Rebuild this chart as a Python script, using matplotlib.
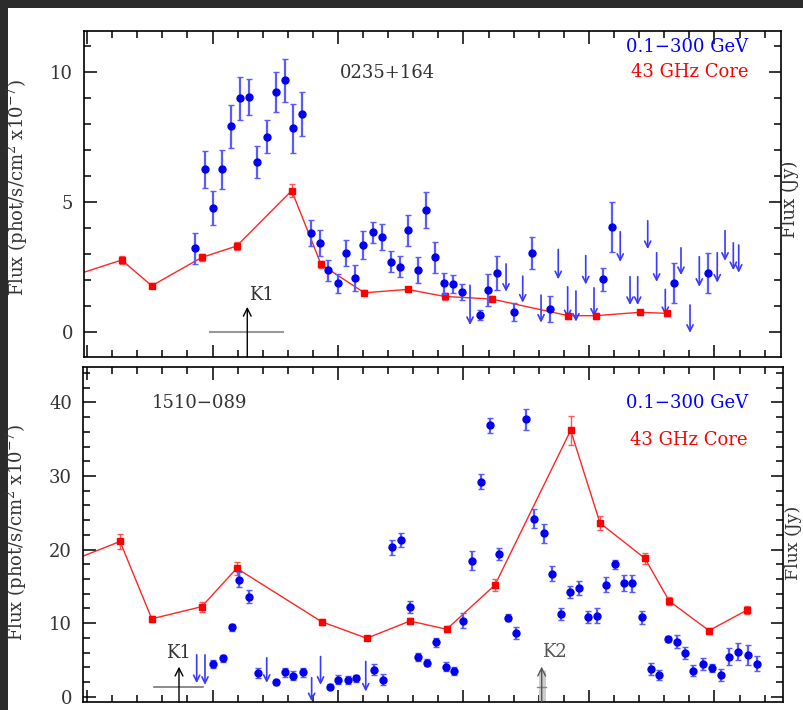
import matplotlib.pyplot as plt
from matplotlib.patches import Rectangle
from matplotlib.ticker import MultipleLocator

plt.rcParams['font.family'] = ['DejaVu Serif']
plt.rcParams['mathtext.fontset'] = 'dejavuserif'

# ---- 0235+164 (top panel) ----
g1_t = [0.861, 0.940, 1.006, 1.078, 1.147, 1.219, 1.293, 1.357, 1.432, 1.504,
        1.575, 1.644, 1.713, 1.785, 1.857, 1.923, 1.998, 2.064, 2.135, 2.202,
        2.276, 2.348, 2.422, 2.494, 2.560, 2.635, 2.701, 2.773, 2.847, 2.916,
        2.986, 3.131, 3.198, 3.269, 3.402, 3.548, 3.689, 4.114, 4.183, 4.680, 4.946]
g1_f = [3.22, 6.26, 4.76, 6.26, 7.92, 8.99, 9.03, 6.54, 7.51, 9.23,
        9.69, 7.83, 8.38, 3.80, 3.41, 2.38, 1.87, 3.03, 2.09, 3.35,
        3.83, 3.64, 2.71, 2.51, 3.92, 2.38, 4.69, 2.87, 1.87, 1.85,
        1.55, 0.65, 1.62, 2.26, 0.78, 3.03, 0.88, 2.03, 4.03, 1.87, 2.26]
g1_e = [0.60, 0.72, 0.65, 0.74, 0.83, 0.82, 0.70, 0.62, 0.63, 0.77,
        0.83, 0.95, 0.85, 0.50, 0.50, 0.40, 0.35, 0.50, 0.50, 0.55,
        0.40, 0.50, 0.40, 0.40, 0.60, 0.50, 0.70, 0.60, 0.40, 0.35,
        0.30, 0.20, 0.60, 0.65, 0.35, 0.62, 0.50, 0.45, 0.97, 0.77, 0.77]
ul1_t = [3.052, 3.339, 3.472, 3.618, 3.755, 3.830, 3.896, 3.974, 4.040, 4.249, 4.327,
         4.388, 4.468, 4.539, 4.608, 4.733, 4.805, 4.879, 5.022, 5.084, 5.150, 5.193]
ul1_hi = [1.80, 2.62, 2.15, 1.42, 3.18, 1.74, 1.58, 2.94, 1.70, 3.86, 2.13,
          2.13, 4.28, 3.05, 1.64, 3.24, 1.04, 2.90, 3.05, 3.90, 3.43, 3.35]
ul1_lo = [0.27, 1.55, 1.13, 0.36, 2.03, 0.53, 0.40, 1.83, 0.59, 2.70, 1.04,
          1.04, 3.19, 1.93, 0.65, 2.19, -0.03, 1.74, 1.90, 2.74, 2.38, 2.28]
r1_t = [-0.375, 0.276, 0.516, 0.914, 1.193, 1.631, 1.865, 2.210, 2.555, 2.849,
        3.225, 3.835, 4.056, 4.406, 4.619]
r1_f = [1.75, 2.77, 1.78, 2.87, 3.31, 5.44, 2.60, 1.51, 1.64, 1.37,
        1.27, 0.63, 0.63, 0.76, 0.72]
r1_e = [0.15, 0.15, 0.1, 0.15, 0.15, 0.25, 0.15, 0.1, 0.1, 0.12,
        0.1, 0.12, 0.12, 0.1, 0.1]

# ---- 1510-089 (bottom panel) ----
g2_t = [1.006, 1.081, 1.158, 1.214, 1.293, 1.360, 1.506, 1.578, 1.644, 1.719,
        1.936, 2.002, 2.077, 2.143, 2.287, 2.361, 2.428, 2.502, 2.574, 2.640,
        2.713, 2.781, 2.861, 2.922, 2.996, 3.068, 3.139, 3.211, 3.280, 3.355,
        3.421, 3.498, 3.564, 3.641, 3.708, 3.779, 3.849, 3.924, 3.994, 4.064,
        4.135, 4.207, 4.279, 4.345, 4.425, 4.492, 4.560, 4.632, 4.699, 4.765,
        4.831, 4.911, 4.977, 5.052, 5.118, 5.190, 5.265, 5.336]
g2_f = [4.48, 5.25, 9.45, 15.9, 13.6, 3.2, 1.95, 3.35, 2.85, 3.35,
        1.40, 2.3, 2.3, 2.53, 3.7, 2.35, 20.3, 21.3, 12.2, 5.42,
        4.65, 7.42, 4.1, 3.52, 10.35, 18.5, 29.2, 36.9, 19.35, 10.76,
        8.7, 37.7, 24.2, 22.2, 16.75, 11.2, 14.25, 14.8, 10.8, 11.0,
        15.25, 18.0, 15.5, 15.4, 10.8, 3.8, 2.98, 7.87, 7.5, 6.0,
        3.57, 4.48, 3.9, 2.98, 5.47, 6.15, 5.7, 4.48]
g2_e = [0.5, 0.5, 0.5, 1.0, 0.9, 0.7, 0.4, 0.6, 0.6, 0.6,
        0.4, 0.6, 0.5, 0.5, 0.7, 0.8, 1.0, 1.0, 0.8, 0.5,
        0.5, 0.6, 0.6, 0.5, 1.0, 1.3, 1.0, 1.0, 0.8, 0.5,
        0.8, 1.4, 1.3, 1.3, 1.0, 0.8, 0.8, 1.0, 0.8, 1.0,
        1.0, 0.6, 1.1, 1.1, 0.9, 0.8, 0.7, 0.4, 0.9, 0.8,
        0.7, 0.8, 0.5, 0.8, 1.2, 1.2, 1.4, 1.0]
ul2_t = [0.874, 0.940, 1.432, 1.790, 1.861, 2.221]
ul2_hi = [5.7, 5.7, 5.3, 2.6, 5.47, 4.8]
ul2_lo = [1.86, 1.63, 1.9, -0.6, 1.63, 0.72]
r2_t = [-0.375, 0.263, 0.516, 0.914, 1.193, 1.870, 2.229, 2.574, 2.866, 3.251,
        3.854, 4.088, 4.446, 4.640, 4.956, 5.261]
r2_f = [16.8, 21.1, 10.6, 12.25, 17.46, 10.2, 7.96, 10.3, 9.18, 15.2,
        36.2, 23.6, 18.8, 13.0, 9.0, 11.8]
r2_e = [0.8, 1.0, 0.4, 0.7, 0.9, 0.4, 0.3, 0.4, 0.4, 0.8,
        2.0, 1.0, 0.8, 0.5, 0.4, 0.6]

ylab = r'Flux (phot/s/cm$^2$ x10$^{-7}$)'
TXT = '#333333'
BLUE = '#0000ee'
LBLUE = '#5a5aff'

fig = plt.figure(figsize=(8.04, 7.10), dpi=100, facecolor='#2b2b2b')
fig.patches.append(Rectangle((8 / 804, 0), 1, 1 - 8 / 710, transform=fig.transFigure,
                             facecolor='white', edgecolor='none', zorder=-5))

ax1 = fig.add_axes([84 / 804, 1 - 357 / 710, 697 / 804, 326 / 710])
ax2 = fig.add_axes([83 / 804, 1 - 702 / 710, 700 / 804, 335 / 710])


def style(ax, ymaj, ymin):
    ax.xaxis.set_major_locator(MultipleLocator(1))
    ax.xaxis.set_minor_locator(MultipleLocator(0.2))
    ax.yaxis.set_major_locator(MultipleLocator(ymaj))
    ax.yaxis.set_minor_locator(MultipleLocator(ymin))
    ax.tick_params(which='both', direction='in', top=True, right=True,
                   labelbottom=False, width=1.1, color='black')
    ax.tick_params(which='major', length=9, labelsize=13, labelcolor=TXT, pad=8)
    ax.tick_params(which='minor', length=5)
    for s in ax.spines.values():
        s.set_linewidth(1.2)


def draw(ax, gt, gf, ge, ut, uhi, ulo, rt, rf, re):
    ax.plot(rt, rf, '-', color='red', lw=1, alpha=0.85, zorder=2)
    ax.errorbar(rt, rf, yerr=re, fmt='s', color='red', ms=4.5, ecolor='#ff5555',
                elinewidth=1, capsize=2.5, zorder=3)
    ax.errorbar(gt, gf, yerr=ge, fmt='o', color=BLUE, ms=5, ecolor=LBLUE,
                elinewidth=1.6, capsize=2.5, capthick=1, zorder=4)
    for t, hi, lo in zip(ut, uhi, ulo):
        ax.annotate('', xy=(t, lo), xytext=(t, hi),
                    arrowprops=dict(arrowstyle='->', color='#3a3aff', lw=1.2,
                                    mutation_scale=11, shrinkA=0, shrinkB=0))


# top panel
style(ax1, 5, 1)
ax1.set_xlim(-0.024, 5.530)
ax1.set_ylim(-0.96, 11.58)
draw(ax1, g1_t, g1_f, g1_e, ul1_t, ul1_hi, ul1_lo, r1_t, r1_f, r1_e)
ax1.plot([0.98, 1.559], [0, 0], color='#999999', lw=1.5)
ax1.annotate('', xy=(1.277, 0.97), xytext=(1.277, -0.96),
             arrowprops=dict(arrowstyle='->', color='black', lw=1,
                             mutation_scale=14, shrinkA=0, shrinkB=0))
ax1.text(1.392, 1.42, 'K1', fontsize=13, color=TXT, ha='center', va='center')
ax1.text(0.436, 0.871, '0235+164', transform=ax1.transAxes, fontsize=13,
         color=TXT, ha='center', va='center')
ax1.text(0.953, 0.951, '0.1\u2212300 GeV', transform=ax1.transAxes, fontsize=13,
         color='blue', ha='right', va='center')
ax1.text(0.953, 0.874, '43 GHz Core', transform=ax1.transAxes, fontsize=13,
         color='red', ha='right', va='center')
ax1.set_ylabel(ylab, fontsize=13, color=TXT)
ax1.yaxis.set_label_coords(-0.077, 0.52)
ax1.text(1.013, 0.485, 'Flux (Jy)', transform=ax1.transAxes, rotation=90,
         fontsize=13, color=TXT, ha='center', va='center')

# bottom panel
style(ax2, 10, 2)
ax2.set_xlim(-0.032, 5.546)
ax2.set_ylim(-0.7, 44.8)
draw(ax2, g2_t, g2_f, g2_e, ul2_t, ul2_hi, ul2_lo, r2_t, r2_f, r2_e)
ax2.plot([0.534, 0.927], [1.32, 1.32], color='#777777', lw=1.2)
ax2.annotate('', xy=(0.733, 4.1), xytext=(0.733, -0.7),
             arrowprops=dict(arrowstyle='->', color='black', lw=1,
                             mutation_scale=14, shrinkA=0, shrinkB=0))
ax2.text(0.725, 5.97, 'K1', fontsize=13, color=TXT, ha='center', va='center')
ax2.plot([3.623, 3.623], [-0.7, 3.6], color='#cccccc', lw=5, solid_capstyle='butt')
ax2.plot([3.586, 3.657], [1.4, 1.4], color='#888888', lw=1)
ax2.annotate('', xy=(3.623, 4.1), xytext=(3.623, -0.7),
             arrowprops=dict(arrowstyle='->', color='#555555', lw=1,
                             mutation_scale=14, shrinkA=0, shrinkB=0))
ax2.text(3.721, 6.15, 'K2', fontsize=13, color='#555555', ha='center', va='center')
ax2.text(0.167, 0.893, '1510\u2212089', transform=ax2.transAxes, fontsize=13,
         color=TXT, ha='center', va='center')
ax2.text(0.95, 0.893, '0.1\u2212300 GeV', transform=ax2.transAxes, fontsize=13,
         color='blue', ha='right', va='center')
ax2.text(0.95, 0.782, '43 GHz Core', transform=ax2.transAxes, fontsize=13,
         color='red', ha='right', va='center')
ax2.set_ylabel(ylab, fontsize=13, color=TXT)
ax2.yaxis.set_label_coords(-0.077, 0.507)
ax2.text(1.0145, 0.475, 'Flux (Jy)', transform=ax2.transAxes, rotation=90,
         fontsize=12.5, color=TXT, ha='center', va='center')

fig.savefig('out.png', dpi=100, facecolor=fig.get_facecolor())
